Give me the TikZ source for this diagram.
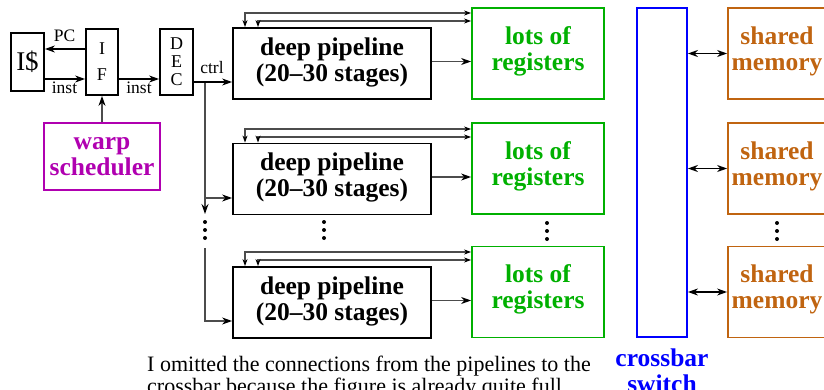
\documentclass[tikz,border=0pt]{standalone}
\usepackage{fontspec}
\setmainfont{Liberation Serif}
\usetikzlibrary{arrows.meta}

\definecolor{reggreen}{RGB}{0,176,0}
\definecolor{warpmag}{RGB}{176,0,176}
\definecolor{membrown}{RGB}{192,100,16}
\definecolor{xbarblue}{RGB}{0,0,255}
\definecolor{wire}{gray}{0.3}

\newcommand\fsz[2]{\fontsize{#1}{#2}\selectfont}

\begin{document}
\begin{tikzpicture}[x=1pt,y=-1pt,
  box/.style={draw,line width=1.8pt,inner sep=0pt,align=center},
  big/.style={font=\fsz{25.5}{26}\bfseries},
  lbl/.style={font=\fsz{17.5}{18},inner sep=0pt},
  regbox/.style={box,big,draw=reggreen,text=reggreen,minimum width=132pt,minimum height=91pt},
  membox/.style={box,big,draw=membrown,text=membrown,minimum width=98pt,minimum height=91pt},
  pipebox/.style={box,big,minimum width=198pt,minimum height=71pt},
  arr/.style={line width=1.4pt,-{Stealth[length=10pt,width=7pt]}},
  garr/.style={line width=1.4pt,draw=wire,-{Stealth[length=10pt,width=7pt,color=black]}},
  fbarr/.style={line width=1.2pt,draw=wire,
    {Stealth[length=7pt,width=5pt,color=black]}-{Stealth[length=7pt,width=5pt,color=black]}},
  dbl/.style={line width=1.5pt,{Stealth[length=10pt,width=7pt]}-{Stealth[length=10pt,width=7pt]}},
  dot/.style={fill=black}
]
\useasboundingbox (0,0) rectangle (824,390);

% front end
\node[box,minimum width=33pt,minimum height=58pt,font=\fsz{27}{27}] (icache) at (27.5,62) {I\$};
\node[box,minimum width=32pt,minimum height=66pt,font=\fsz{18}{26}] (ifu) at (102,62) {I\\F};
\node[box,minimum width=33pt,minimum height=66pt,font=\fsz{18}{18}] (dec) at (176.5,62) {D\\E\\C};
\node[box,big,draw=warpmag,text=warpmag,minimum width=116pt,minimum height=67pt] (warp) at (102,156.5) {warp\\scheduler};

% pipelines, register files, shared memories
\foreach \n/\y in {1/63.5,2/179,3/302.5}
  \node[pipebox] (pipe\n) at (332,\y) {deep pipeline\\(20\textendash30 stages)\vspace{3pt}};
\foreach \n/\y in {1/53.5,2/168.5,3/292}{
  \node[regbox] (reg\n) at (538,\y) {lots of\\registers\vspace{5pt}};
  \node[membox] (sm\n) at (777,\y) {shared\\memory\vspace{5pt}};
}

% crossbar
\node[box,draw=xbarblue,minimum width=50pt,minimum height=329pt] (xbar) at (662,172.5) {};
\node[big,text=xbarblue,align=center,anchor=north,inner sep=0pt] (xlabel) at (662,349) {crossbar\\switch};

% fetch / decode connectors
\draw[arr] ([yshift=13pt]ifu.west) -- ([yshift=13pt]icache.east);
\draw[arr] ([yshift=-17pt]icache.east) -- ([yshift=-17pt]ifu.west);
\draw[arr] ([yshift=-17pt]ifu.east) -- ([yshift=-17pt]dec.west);
\draw[garr] (warp.north) -- (ifu.south);
\node[lbl,anchor=base] (pclbl) at (64.5,42) {PC};
\node[lbl,anchor=base] (inst1) at (64.5,94) {inst};
\node[lbl,anchor=base] (inst2) at (139,94) {inst};

% control fan-out
\coordinate (split) at (205,82);
\coordinate (down1) at (205,214);
\coordinate (tap2) at (205,198);
\coordinate (up3) at (205,248);
\coordinate (tap3) at (205,321);
\draw[garr] (split) -- (down1);
\draw[arr] ([yshift=-20pt]dec.east) -- (pipe1.west |- split);
\draw[garr] (tap2) -- (pipe2.west |- tap2);
\draw[garr] (up3) -- (tap3) -- (pipe3.west |- tap3);
\node[lbl,anchor=base] (ctrl) at (212,74) {ctrl};

% pipeline <-> register file
\foreach \n/\t in {1/28,2/144,3/267}{
  \coordinate (fa\n) at (245,{\t-15});
  \coordinate (fb\n) at (258,{\t-7});
  \coordinate (out\n) at ([yshift=2pt]pipe\n.east);
  \draw[fbarr] (pipe\n.north -| fa\n) -- (fa\n) -- (fa\n -| reg\n.west);
  \draw[fbarr] (pipe\n.north -| fb\n) -- (fb\n) -- (fb\n -| reg\n.west);
  \draw[garr] (out\n) -- (out\n -| reg\n.west);
}

% crossbar <-> shared memory
\foreach \n in {1,2,3}
  \draw[dbl] (xbar.east |- sm\n.west) -- (sm\n.west);

% ellipses
\foreach \x in {205,324}
  \foreach \y in {222,230,238}
    \fill[dot] (\x,\y) circle (2pt);
\foreach \x in {547,777}
  \foreach \y in {223,231,239}
    \fill[dot] (\x,\y) circle (2pt);

% note
\node[anchor=north west,inner sep=0pt,align=left,font=\fsz{22}{22}] (note) at (147,356)
  {I omitted the connections from the pipelines to the\\crossbar because the figure is already quite full.};
\end{tikzpicture}
\end{document}
